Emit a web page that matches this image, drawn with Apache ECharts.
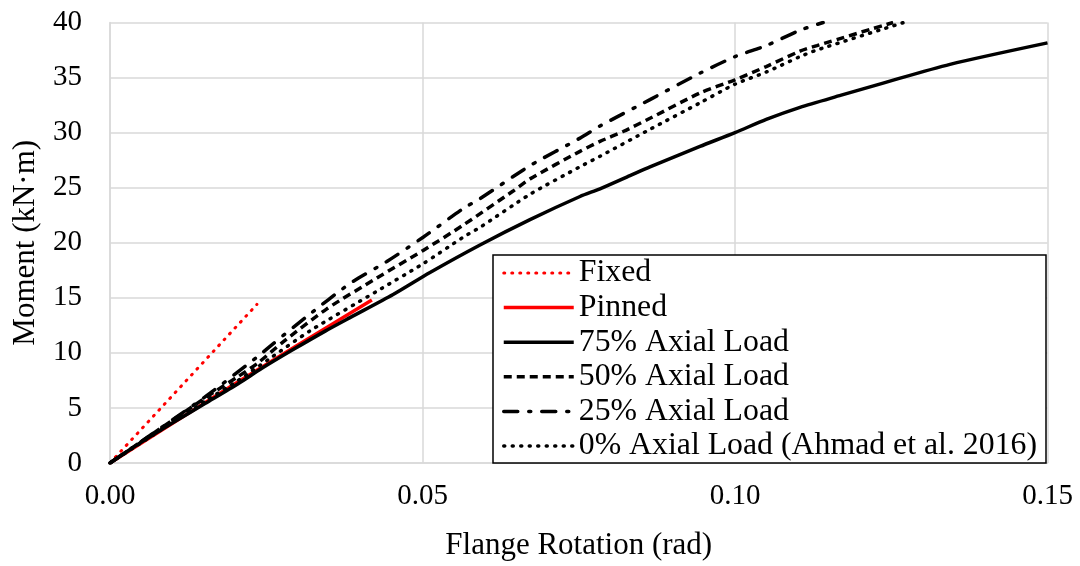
<!DOCTYPE html>
<html>
<head>
<meta charset="utf-8">
<script src="https://cdn.jsdelivr.net/npm/echarts@6/dist/echarts.min.js"></script>
<style>
  html, body { margin: 0; padding: 0; background: #fff; }
  #chart { width: 1080px; height: 566px; }
</style>
</head>
<body>
<div id="chart"></div>
<script>
// flange rotation (rad) vs moment (kN·m)
var xTicks = [0, 0.05, 0.10, 0.15];
var yTicks = [0, 5, 10, 15, 20, 25, 30, 35, 40];

var fixed = [[0, 0], [0.0235, 14.4]];
var pinned = [[0, 0], [0.010, 3.6], [0.020, 7.2], [0.030, 10.7], [0.0419, 14.8]];
var axial75 = [
  [0, 0], [0.0045, 1.7], [0.0099, 3.6], [0.0152, 5.4], [0.0205, 7.2], [0.0243, 8.6],
  [0.0293, 10.3], [0.0345, 12.0], [0.0384, 13.2], [0.0453, 15.3], [0.0512, 17.3],
  [0.0592, 19.8], [0.0672, 22.1], [0.0752, 24.2], [0.0784, 24.9], [0.0832, 26.1],
  [0.0864, 26.9], [0.0944, 28.75], [0.1000, 30.0], [0.1050, 31.2], [0.1104, 32.3],
  [0.1170, 33.4], [0.1237, 34.5], [0.1344, 36.2], [0.1500, 38.15]
];
var axial50 = [
  [0, 0], [0.0152, 5.9], [0.0205, 7.85], [0.0237, 9.1], [0.0277, 11.0], [0.0347, 14.0],
  [0.0427, 16.8], [0.0501, 19.3], [0.0565, 21.6], [0.0645, 24.7], [0.0672, 25.8],
  [0.0752, 28.3], [0.0784, 29.2], [0.0821, 30.1], [0.0864, 31.3], [0.0944, 33.6],
  [0.1000, 34.8], [0.1050, 36.0], [0.1104, 37.4], [0.1131, 37.9], [0.1253, 40]
];
var axial25 = [
  [0, 0], [0.0152, 6.0], [0.0237, 9.7], [0.0256, 10.6], [0.0315, 13.3], [0.0384, 16.3],
  [0.0443, 18.3], [0.0501, 20.5], [0.0565, 23.1], [0.0592, 24.0], [0.0672, 27.0],
  [0.0752, 29.5], [0.0784, 30.6], [0.0864, 33.0], [0.0944, 35.4], [0.1000, 36.9],
  [0.1050, 37.9], [0.1104, 39.3], [0.1141, 40]
];
var axial0 = [
  [0, 0], [0.0152, 5.6], [0.0205, 7.5], [0.0256, 9.5], [0.0320, 12.0], [0.0427, 15.6],
  [0.0501, 18.1], [0.0565, 20.5], [0.0592, 21.4], [0.0672, 24.4], [0.0752, 26.9],
  [0.0784, 27.85], [0.0864, 30.3], [0.0944, 32.7], [0.1000, 34.4], [0.1050, 35.5],
  [0.1104, 36.9], [0.1131, 37.5], [0.1270, 40]
];

var serif = "'Liberation Serif', 'Times New Roman', serif";
var chart = echarts.init(document.getElementById('chart'));

chart.setOption({
  backgroundColor: '#fff',
  animation: false,
  grid: { left: 110, right: 32.5, top: 22.5, bottom: 103 },
  xAxis: {
    type: 'value',
    min: xTicks[0],
    max: xTicks[xTicks.length - 1],
    interval: 0.05,
    name: 'Flange Rotation (rad)',
    nameLocation: 'middle',
    nameGap: 67,
    nameTextStyle: { fontFamily: serif, fontSize: 31, color: '#000' },
    axisLine: { lineStyle: { color: '#d9d9d9', width: 1.5 } },
    axisTick: { show: false },
    axisLabel: {
      fontFamily: serif, fontSize: 29, color: '#000', margin: 19,
      formatter: function (v) { return v.toFixed(2); }
    },
    splitLine: { lineStyle: { color: '#d9d9d9', width: 1.5 } }
  },
  yAxis: {
    type: 'value',
    min: yTicks[0],
    max: yTicks[yTicks.length - 1],
    interval: 5,
    name: 'Moment (kN·m)',
    nameLocation: 'middle',
    nameGap: 69,
    nameTextStyle: { fontFamily: serif, fontSize: 31, color: '#000' },
    axisLine: { show: true, lineStyle: { color: '#d9d9d9', width: 1.5 } },
    axisTick: { show: false },
    axisLabel: { fontFamily: serif, fontSize: 29, color: '#000', margin: 28 },
    splitLine: { lineStyle: { color: '#d9d9d9', width: 1.5 } }
  },
  graphic: [{
    type: 'rect',
    z: 9,
    shape: { x: 493, y: 255, width: 553, height: 208 },
    style: { fill: '#fff', stroke: '#000', lineWidth: 1.5 }
  }],
  legend: {
    z: 10,
    orient: 'vertical',
    left: 502,
    top: 257,
    padding: 0,
    itemWidth: 70,
    itemHeight: 30,
    itemGap: 2.6,
    itemStyle: { opacity: 0 },
    lineStyle: { width: 'inherit' },
    textStyle: { fontFamily: serif, fontSize: 31.8, color: '#000', lineHeight: 30 },
    data: ['Fixed', 'Pinned', '75% Axial Load', '50% Axial Load', '25% Axial Load', '0% Axial Load (Ahmad et al. 2016)']
  },
  series: [
    {
      name: 'Fixed', type: 'line', data: fixed, symbol: 'none',
      lineStyle: { color: '#ff0000', width: 3, type: [1, 7], cap: 'round' },
      itemStyle: { color: '#ff0000' }
    },
    {
      name: 'Pinned', type: 'line', data: pinned, symbol: 'none', smooth: 0.25,
      lineStyle: { color: '#ff0000', width: 3.5 },
      itemStyle: { color: '#ff0000' }
    },
    {
      name: '75% Axial Load', type: 'line', data: axial75, symbol: 'none', smooth: 0.25,
      lineStyle: { color: '#000', width: 3.5 },
      itemStyle: { color: '#000' }
    },
    {
      name: '50% Axial Load', type: 'line', data: axial50, symbol: 'none', smooth: 0.25,
      lineStyle: { color: '#000', width: 3.5, type: [8, 5] },
      itemStyle: { color: '#000' }
    },
    {
      name: '25% Axial Load', type: 'line', data: axial25, symbol: 'none', smooth: 0.25,
      lineStyle: { color: '#000', width: 3.5, type: [14, 11, 2, 11], cap: 'round' },
      itemStyle: { color: '#000' }
    },
    {
      name: '0% Axial Load (Ahmad et al. 2016)', type: 'line', data: axial0, symbol: 'none', smooth: 0.25,
      lineStyle: { color: '#000', width: 3.5, type: [1, 7.5], cap: 'round' },
      itemStyle: { color: '#000' }
    }
  ]
});
</script>
</body>
</html>
